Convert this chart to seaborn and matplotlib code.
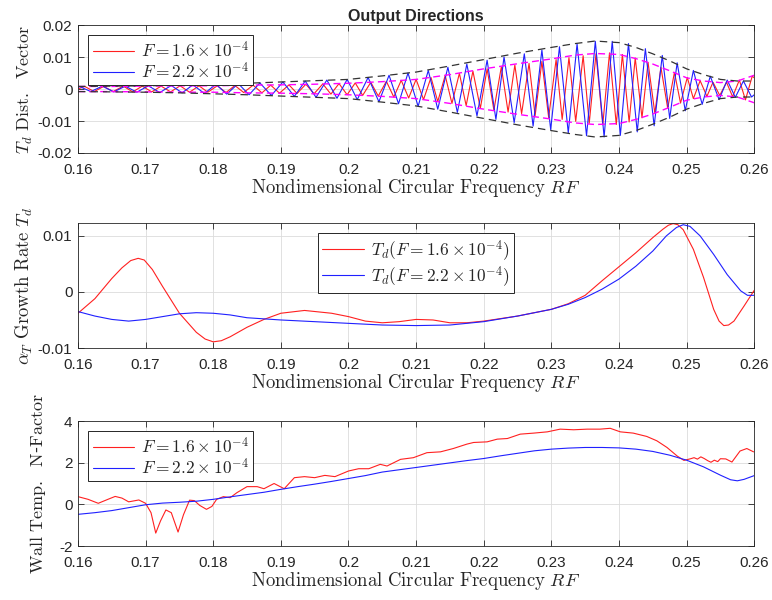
import numpy as np
import matplotlib
matplotlib.use("Agg")
import matplotlib.pyplot as plt
import seaborn as sns
from matplotlib.ticker import FuncFormatter, MultipleLocator

# ---- top panel: output direction vectors (extrema) ----
blue_rf = [0.1600, 0.1602, 0.1619, 0.1636, 0.1653, 0.1670, 0.1687, 0.1704, 0.1721, 0.1738,
           0.1754, 0.1770, 0.1787, 0.1804, 0.1820, 0.1837, 0.1853, 0.1869, 0.1886, 0.1903,
           0.1920, 0.1936, 0.1952, 0.1968, 0.1983, 0.1998, 0.2013, 0.2029, 0.2045, 0.2060,
           0.2074, 0.2088, 0.2103, 0.2118, 0.2132, 0.2147, 0.2161, 0.2175, 0.2190, 0.2205,
           0.2218, 0.2230, 0.2245, 0.2260, 0.2273, 0.2286, 0.2299, 0.2312, 0.2325, 0.2338,
           0.2352, 0.2365, 0.2378, 0.2390, 0.2402, 0.2414, 0.2427, 0.2439, 0.2452, 0.2464,
           0.2475, 0.2486, 0.2498, 0.2510, 0.2523, 0.2535, 0.2548, 0.2560, 0.2572, 0.2584,
           0.2596, 0.2600]
blue_vec = [0.0003, 0.0008, -0.0008, 0.0009, -0.0009, 0.0009, -0.0010, 0.0010, -0.0011, 0.0011,
            -0.0012, 0.0013, -0.0014, 0.0015, -0.0016, 0.0017, -0.0018, 0.0019, -0.0020, 0.0022,
            -0.0023, 0.0025, -0.0026, 0.0028, -0.0029, 0.0030, -0.0033, 0.0036, -0.0040, 0.0043,
            -0.0046, 0.0050, -0.0054, 0.0058, -0.0063, 0.0068, -0.0073, 0.0078, -0.0084, 0.0090,
            -0.0095, 0.0100, -0.0105, 0.0110, -0.0116, 0.0122, -0.0127, 0.0132, -0.0137, 0.0141,
            -0.0146, 0.0149, -0.0150, 0.0149, -0.0145, 0.0142, -0.0134, 0.0126, -0.0115, 0.0105,
            -0.0092, 0.0082, -0.0068, 0.0058, -0.0048, 0.0040, -0.0033, 0.0028, -0.0026, 0.0025,
            -0.0025, -0.0018]

red_rf = [0.1600, 0.1610, 0.1624, 0.1638, 0.1652, 0.1667, 0.1681, 0.1695, 0.1709, 0.1723,
          0.1737, 0.1751, 0.1765, 0.1779, 0.1792, 0.1806, 0.1819, 0.1832, 0.1845, 0.1859,
          0.1872, 0.1885, 0.1898, 0.1912, 0.1924, 0.1937, 0.1949, 0.1962, 0.1974, 0.1986,
          0.1998, 0.2010, 0.2021, 0.2033, 0.2044, 0.2056, 0.2067, 0.2078, 0.2089, 0.2100,
          0.2111, 0.2122, 0.2132, 0.2143, 0.2153, 0.2164, 0.2174, 0.2184, 0.2195, 0.2205,
          0.2215, 0.2226, 0.2236, 0.2246, 0.2256, 0.2267, 0.2276, 0.2286, 0.2296, 0.2307,
          0.2316, 0.2326, 0.2336, 0.2347, 0.2356, 0.2366, 0.2376, 0.2386, 0.2396, 0.2405,
          0.2415, 0.2424, 0.2434, 0.2443, 0.2453, 0.2462, 0.2472, 0.2482, 0.2491, 0.2501,
          0.2510, 0.2520, 0.2530, 0.2539, 0.2549, 0.2559, 0.2568, 0.2578, 0.2587, 0.2597,
          0.2600]
red_vec = [0.0000, 0.0008, -0.0008, 0.0008, -0.0008, 0.0009, -0.0009, 0.0009, -0.0009, 0.0009,
           -0.0009, 0.0010, -0.0010, 0.0010, -0.0010, 0.0010, -0.0011, 0.0011, -0.0011, 0.0012,
           -0.0012, 0.0012, -0.0013, 0.0013, -0.0014, 0.0015, -0.0015, 0.0016, -0.0016, 0.0017,
           -0.0018, 0.0019, -0.0020, 0.0021, -0.0022, 0.0024, -0.0025, 0.0027, -0.0028, 0.0030,
           -0.0033, 0.0036, -0.0039, 0.0042, -0.0045, 0.0049, -0.0052, 0.0056, -0.0060, 0.0063,
           -0.0066, 0.0069, -0.0072, 0.0075, -0.0077, 0.0080, -0.0083, 0.0086, -0.0089, 0.0092,
           -0.0095, 0.0098, -0.0101, 0.0104, -0.0107, 0.0110, -0.0112, 0.0113, -0.0111, 0.0108,
           -0.0103, 0.0097, -0.0090, 0.0083, -0.0076, 0.0068, -0.0060, 0.0052, -0.0044, 0.0036,
           -0.0030, 0.0026, -0.0023, 0.0021, -0.0020, 0.0021, -0.0024, 0.0028, -0.0034, 0.0040,
           0.0035]

env_rf = [0.16, 0.165, 0.17, 0.175, 0.18, 0.185, 0.19, 0.195, 0.20, 0.205, 0.21, 0.215, 0.22,
          0.225, 0.23, 0.2335, 0.2365, 0.24, 0.2425, 0.245, 0.2475, 0.25, 0.2525, 0.255, 0.2575, 0.26]
env_black = [0.0008, 0.0009, 0.0010, 0.0012, 0.0015, 0.0018, 0.0022, 0.0026, 0.0030, 0.0041,
             0.0053, 0.0072, 0.0092, 0.0112, 0.0130, 0.0142, 0.0150, 0.0145, 0.0130, 0.0110,
             0.0088, 0.0063, 0.0045, 0.0030, 0.0025, 0.0025]
env_magenta = [0.0008, 0.0008, 0.0009, 0.0010, 0.0010, 0.0012, 0.0013, 0.0015, 0.0018, 0.0023,
               0.0030, 0.0045, 0.0063, 0.0079, 0.0094, 0.0106, 0.0111, 0.0108, 0.0095, 0.0078,
               0.0057, 0.0035, 0.0025, 0.0020, 0.0025, 0.0043]

# ---- middle panel: growth rate ----
gr_red_rf = [0.16, 0.1625, 0.165, 0.1665, 0.1678, 0.1689, 0.1698, 0.171, 0.1725, 0.175, 0.1775,
             0.1788, 0.18, 0.1812, 0.1825, 0.185, 0.1875, 0.19, 0.1935, 0.1975, 0.20, 0.2025,
             0.205, 0.2075, 0.21, 0.2125, 0.215, 0.2175, 0.22, 0.225, 0.23, 0.2325, 0.235,
             0.2375, 0.24, 0.2425, 0.245, 0.2465, 0.2473, 0.248, 0.2487, 0.2495, 0.251, 0.2525,
             0.254, 0.2548, 0.2555, 0.2562, 0.257, 0.2585, 0.26]
gr_red = [-0.0038, -0.0012, 0.0024, 0.0043, 0.0056, 0.0060, 0.0057, 0.0040, 0.0010, -0.0038,
          -0.0072, -0.0084, -0.0089, -0.0087, -0.0080, -0.0063, -0.0049, -0.0038, -0.0033,
          -0.0038, -0.0044, -0.0052, -0.0055, -0.0053, -0.0049, -0.0050, -0.0055, -0.0055,
          -0.0052, -0.0043, -0.0031, -0.0021, -0.0006, 0.0020, 0.0045, 0.0070, 0.0097, 0.0112,
          0.0119, 0.0122, 0.0120, 0.0111, 0.0076, 0.0026, -0.0031, -0.0052, -0.0060, -0.0059,
          -0.0052, -0.0025, 0.0003]
gr_blue_rf = [0.16, 0.1625, 0.165, 0.1675, 0.17, 0.1725, 0.175, 0.1775, 0.18, 0.1825, 0.185,
              0.19, 0.195, 0.20, 0.205, 0.21, 0.215, 0.22, 0.225, 0.23, 0.2325, 0.235, 0.2375,
              0.24, 0.2425, 0.245, 0.247, 0.2485, 0.2495, 0.2505, 0.252, 0.254, 0.256, 0.258,
              0.259, 0.26]
gr_blue = [-0.0035, -0.0043, -0.0049, -0.0052, -0.0049, -0.0044, -0.0039, -0.0037, -0.0038,
           -0.0041, -0.0046, -0.0050, -0.0053, -0.0056, -0.0059, -0.0060, -0.0059, -0.0053,
           -0.0043, -0.0031, -0.0022, -0.0010, 0.0005, 0.0023, 0.0046, 0.0073, 0.0100, 0.0115,
           0.0120, 0.0117, 0.0100, 0.0067, 0.0031, 0.0002, -0.0006, -0.0006]

# ---- bottom panel: N-factor ----
nf_red_rf = [0.1600, 0.1615, 0.1630, 0.1645, 0.1655, 0.1665, 0.1675, 0.1690, 0.1700, 0.1708,
             0.1715, 0.1722, 0.1730, 0.1738, 0.1748, 0.1756, 0.1765, 0.1772, 0.1780, 0.1790,
             0.1798, 0.1805, 0.1815, 0.1825, 0.1835, 0.1850, 0.1865, 0.1875, 0.1890, 0.1905,
             0.1920, 0.1935, 0.1950, 0.1965, 0.1980, 0.2000, 0.2015, 0.2030, 0.2047, 0.2057,
             0.2077, 0.2096, 0.2116, 0.2136, 0.2155, 0.2175, 0.2185, 0.2205, 0.2220, 0.2235,
             0.2254, 0.2274, 0.2294, 0.2313, 0.2333, 0.2353, 0.2372, 0.2387, 0.2402, 0.2421,
             0.2441, 0.2456, 0.2471, 0.2486, 0.2496, 0.2506, 0.2511, 0.2516, 0.2521, 0.2526,
             0.2531, 0.2536, 0.2541, 0.2546, 0.2550, 0.2558, 0.2567, 0.2579, 0.2589, 0.2599]
nf_red = [0.37, 0.24, 0.05, 0.25, 0.38, 0.30, 0.12, 0.21, 0.05, -0.40,
          -1.38, -0.80, -0.27, -0.40, -1.33, -0.50, 0.20, 0.18, -0.05, -0.24,
          -0.10, 0.24, 0.37, 0.32, 0.56, 0.85, 0.85, 0.75, 1.00, 0.75,
          1.28, 1.33, 1.28, 1.39, 1.33, 1.60, 1.71, 1.71, 1.92, 1.84,
          2.16, 2.24, 2.48, 2.52, 2.68, 2.89, 2.97, 3.00, 3.13, 3.16,
          3.37, 3.42, 3.48, 3.61, 3.58, 3.61, 3.61, 3.65, 3.48, 3.42,
          3.26, 3.05, 2.73, 2.32, 2.11, 2.19, 2.24, 2.17, 2.28, 2.20,
          2.10, 2.02, 2.12, 2.05, 2.19, 2.18, 2.03, 2.56, 2.68, 2.52]
nf_blue_rf = [0.16, 0.1625, 0.165, 0.1675, 0.17, 0.1725, 0.175, 0.1775, 0.18, 0.1825, 0.185,
              0.1875, 0.19, 0.1925, 0.195, 0.1975, 0.20, 0.2025, 0.205, 0.2075, 0.21, 0.2125,
              0.215, 0.2175, 0.22, 0.2225, 0.225, 0.2275, 0.23, 0.2325, 0.235, 0.2375, 0.24,
              0.2425, 0.245, 0.2475, 0.25, 0.2525, 0.255, 0.2565, 0.2575, 0.2585, 0.26]
nf_blue = [-0.48, -0.40, -0.30, -0.16, -0.02, 0.06, 0.10, 0.15, 0.24, 0.36, 0.47,
           0.58, 0.72, 0.85, 0.97, 1.10, 1.24, 1.38, 1.55, 1.66, 1.77, 1.88,
           1.99, 2.10, 2.20, 2.33, 2.45, 2.57, 2.65, 2.70, 2.73, 2.73, 2.71,
           2.65, 2.54, 2.36, 2.12, 1.80, 1.40, 1.18, 1.13, 1.20, 1.38]

lab16 = r'$F = 1.6 \times 10^{-4}$'
lab22 = r'$F = 2.2 \times 10^{-4}$'
xlab = r'$\mathrm{Nondimensional\ Circular\ Frequency}\ RF$'
xticks = np.arange(0.16, 0.2601, 0.01)

sns.set_theme(style="white")
plt.rcParams['font.family'] = ['Liberation Sans', 'DejaVu Sans']
plt.rcParams['mathtext.fontset'] = 'cm'
plt.rcParams['axes.unicode_minus'] = False

fig = plt.figure(figsize=(7.72, 6.0), dpi=100)
ax1 = fig.add_axes([0.101, 0.745, 0.876, 0.2133])
ax2 = fig.add_axes([0.101, 0.420, 0.876, 0.2083])
ax3 = fig.add_axes([0.101, 0.090, 0.876, 0.2083])

red = '#ff2020'
blue = '#2020ff'

sns.lineplot(x=red_rf, y=red_vec, ax=ax1, color=red, lw=0.8, estimator=None, sort=False, label=lab16)
sns.lineplot(x=blue_rf, y=blue_vec, ax=ax1, color=blue, lw=0.8, estimator=None, sort=False, label=lab22)
for sgn in (1, -1):
    sns.lineplot(x=env_rf, y=[sgn * v for v in env_magenta], ax=ax1, color='#ff00ff',
                 lw=1.0, linestyle=(0, (5, 3)), estimator=None, sort=False)
    sns.lineplot(x=env_rf, y=[sgn * v for v in env_black], ax=ax1, color='#333333',
                 lw=0.9, linestyle=(0, (6, 4)), estimator=None, sort=False)

sns.lineplot(x=gr_red_rf, y=gr_red, ax=ax2, color=red, lw=0.8, estimator=None, sort=False,
             label=r'$T_d(F = 1.6 \times 10^{-4})$')
sns.lineplot(x=gr_blue_rf, y=gr_blue, ax=ax2, color=blue, lw=0.8, estimator=None, sort=False,
             label=r'$T_d(F = 2.2 \times 10^{-4})$')

sns.lineplot(x=nf_red_rf, y=nf_red, ax=ax3, color=red, lw=0.8, estimator=None, sort=False, label=lab16)
sns.lineplot(x=nf_blue_rf, y=nf_blue, ax=ax3, color=blue, lw=0.8, estimator=None, sort=False, label=lab22)

fmt = FuncFormatter(lambda v, p: '%g' % round(v, 6))
for ax in (ax1, ax2, ax3):
    ax.set_xlim(0.16, 0.26)
    ax.set_xticks(xticks)
    ax.xaxis.set_major_formatter(fmt)
    ax.yaxis.set_major_formatter(fmt)
    ax.grid(True, color='#dcdcdc', lw=0.6)
    ax.tick_params(direction='in', length=4, width=0.6, colors='#262626', labelsize=11,
                   top=True, right=True, bottom=True, left=True)
    ax.tick_params(axis='x', pad=7)
    ax.tick_params(axis='y', pad=4)
    for s in ax.spines.values():
        s.set_color('#262626')
        s.set_linewidth(0.6)
    ax.set_xlabel(xlab, fontsize=13.5, color='#262626', labelpad=0)

ax1.set_ylim(-0.02, 0.02)
ax1.yaxis.set_major_locator(MultipleLocator(0.01))
ax1.set_ylabel(r'$T_d\ \mathrm{Dist.\ \ Vector}$', fontsize=13, color='#262626', labelpad=2)
ax1.set_title('Output Directions', fontsize=11.5, fontweight='bold', pad=3)

ax2.set_ylim(-0.01, 0.0123)
ax2.set_yticks([-0.01, 0, 0.01])
ax2.set_ylabel(r'$\alpha_T\ \mathrm{Growth\ Rate}\ T_d$', fontsize=13.5, color='#262626', labelpad=2)

ax3.set_ylim(-2, 4)
ax3.set_yticks([-2, 0, 2, 4])
ax3.set_ylabel(r'$\mathrm{Wall\ Temp.\ \ N}$' + '-' + r'$\mathrm{Factor}$', fontsize=13,
               color='#262626', labelpad=8)

leg_kw = dict(fontsize=12.5, frameon=True, fancybox=False, framealpha=1, edgecolor='#262626',
              handlelength=2.4, borderpad=0.25, labelspacing=0.05, handletextpad=0.4,
              borderaxespad=0.6)
for ax, loc in ((ax1, 'upper left'), (ax2, 'upper center'), (ax3, 'upper left')):
    leg = ax.legend(loc=loc, **leg_kw)
    leg.get_frame().set_linewidth(0.7)

fig.savefig('out.png', dpi=100)
